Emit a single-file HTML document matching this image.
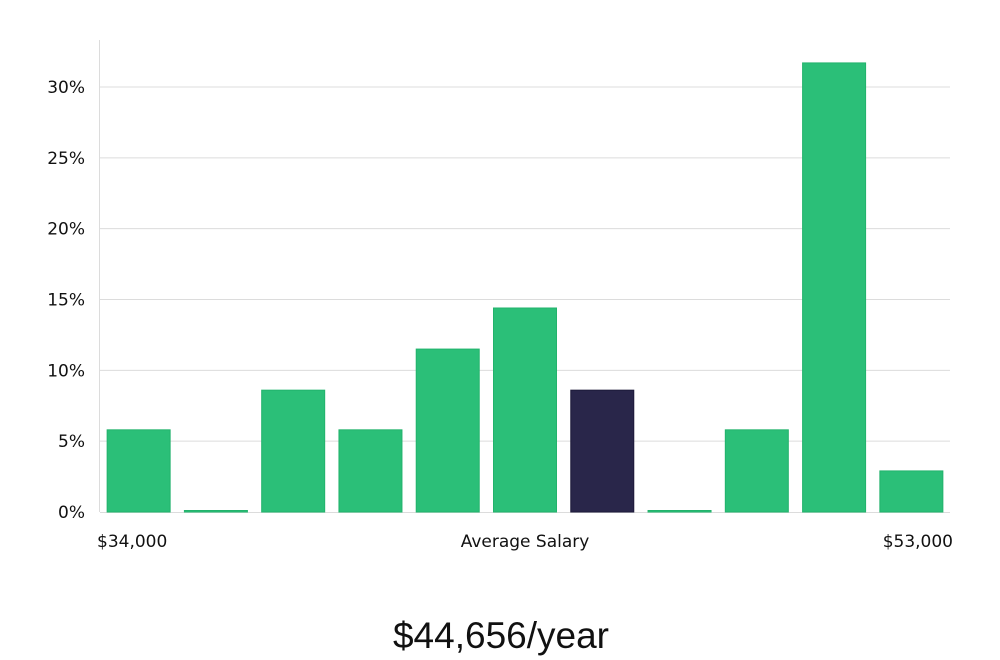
<!DOCTYPE html>
<html><head><meta charset="utf-8"><style>
html,body{margin:0;padding:0;background:#fff;width:1000px;height:660px;overflow:hidden}
svg text{font-family:"DejaVu Sans","Liberation Sans",sans-serif}
</style></head><body>
<svg id="chart" width="1000" height="660" xmlns="http://www.w3.org/2000/svg"></svg>
<script>
const categories = ["b1","b2","b3","b4","b5","b6","b7","b8","b9","b10","b11"];
const values = [5.8, 0, 8.6, 5.8, 11.5, 14.4, 8.6, 0, 5.8, 31.7, 2.9];
const highlightIndex = 6;
const yTicks = [0, 5, 10, 15, 20, 25, 30];
const yTickLabels = ["0%","5%","10%","15%","20%","25%","30%"];
const xLabels = ["$34,000","Average Salary","$53,000"];
const title = "$44,656/year";

const NS = "http://www.w3.org/2000/svg";
const svg = document.getElementById("chart");
const X0 = 100, X1 = 950, Y0 = 512, PX_PER = (512 - 87) / 30;
const step = (X1 - X0) / categories.length;
const bw = 63;
function y(v){ return Y0 - v * PX_PER; }
function xc(i){ return X0 + step * (i + 0.5); }
function mk(tag, attrs, text){
  const e = document.createElementNS(NS, tag);
  for (const k in attrs) e.setAttribute(k, attrs[k]);
  if (text !== undefined) e.textContent = text;
  svg.appendChild(e);
  return e;
}
yTicks.forEach((t, i) => {
  if (t > 0) {
    const g = mk("line", {x1: X0, x2: X1, y1: y(t), y2: y(t), stroke: "#dcdcdc", "stroke-width": 1});
    
    
  }
  const l = mk("text", {x: 85, y: y(t) + 6, "text-anchor": "end", "font-size": 17, fill: "#111"}, yTickLabels[i]);
  
  
});
const ax = mk("line", {x1: 99.5, x2: 99.5, y1: 40, y2: Y0, stroke: "#dcdcdc", "stroke-width": 1});


const bx = mk("line", {x1: X0, x2: X1, y1: Y0 + 0.5, y2: Y0 + 0.5, stroke: "#dcdcdc", "stroke-width": 1});


values.forEach((v, i) => {
  const h = Math.max(1.5, v * PX_PER);
  const hl = i === highlightIndex;
  const r = mk("rect", {x: xc(i) - bw/2, y: Y0 - h, width: bw, height: h,
    fill: hl ? "#29264a" : "#2bbf78", stroke: hl ? "#1d1a3a" : "#22b36c", "stroke-width": 1});
  
  
});
const xl1 = mk("text", {x: 97, y: 547, "font-size": 17, fill: "#111"}, xLabels[0]);


const xl2 = mk("text", {x: 525, y: 547, "text-anchor": "middle", "font-size": 17, fill: "#111"}, xLabels[1]);


const xl3 = mk("text", {x: 953, y: 547, "text-anchor": "end", "font-size": 17, fill: "#111"}, xLabels[2]);


const t = mk("text", {x: 501, y: 648, "text-anchor": "middle", "font-size": 37, fill: "#111", style: "font-family:'Liberation Sans Narrow','Liberation Sans',sans-serif;font-weight:300"}, title);


</script>
</body></html>
